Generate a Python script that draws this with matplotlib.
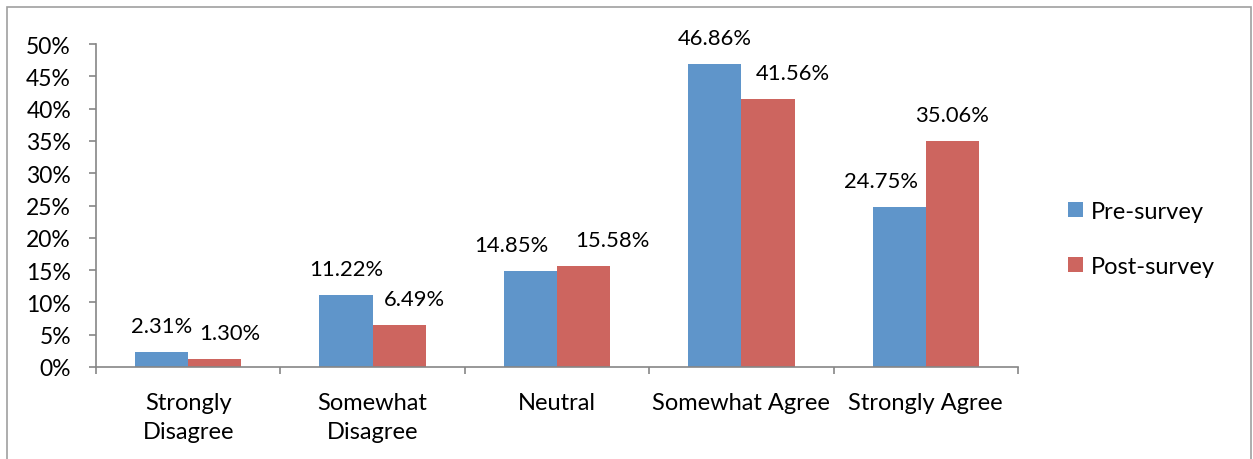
import matplotlib.pyplot as plt
from matplotlib.patches import Rectangle
from matplotlib.ticker import FixedLocator, PercentFormatter
import numpy as np

plt.rcParams['font.family'] = ['Lato', 'DejaVu Sans']

categories = ['Strongly\nDisagree', 'Somewhat\nDisagree', 'Neutral', 'Somewhat Agree', 'Strongly Agree']
pre_survey = [2.31, 11.22, 14.85, 46.86, 24.75]
post_survey = [1.30, 6.49, 15.58, 41.56, 35.06]
# horizontal nudges (points) for the value labels, as placed in the original
pre_nudge = [0, 0, -14, 0, -13]
post_nudge = [11, 11, 21, 18, 0]

blue = '#5F95CA'
red = '#CD655F'
axis_gray = '#868686'

fig = plt.figure(figsize=(12.53, 4.6), dpi=100)
ax = fig.add_axes([96 / 1253, 92 / 460, 922 / 1253, 323 / 460])

x = np.arange(len(categories))
w = 0.288
ax.bar(x - w / 2, pre_survey, w, color=blue, label='Pre-survey')
ax.bar(x + w / 2, post_survey, w, color=red, label='Post-survey')

for i in range(len(categories)):
    ax.annotate(f'{pre_survey[i]:.2f}%', (x[i] - w / 2, pre_survey[i]),
                xytext=(pre_nudge[i], 14.4), textcoords='offset points',
                ha='center', va='baseline', fontsize=15.8)
    ax.annotate(f'{post_survey[i]:.2f}%', (x[i] + w / 2, post_survey[i]),
                xytext=(post_nudge[i], 14.4), textcoords='offset points',
                ha='center', va='baseline', fontsize=15.8)

ax.set_xlim(-0.5, len(categories) - 0.5)
ax.set_ylim(0, 50)
ax.yaxis.set_major_locator(FixedLocator(np.arange(0, 51, 5)))
ax.yaxis.set_major_formatter(PercentFormatter(decimals=0))
ax.set_xticks(x)
ax.set_xticklabels(categories, fontsize=17, linespacing=1.45)
ax.xaxis.set_minor_locator(FixedLocator(np.arange(-0.5, len(categories), 1)))
ax.tick_params(axis='x', which='major', length=0, pad=18)
ax.tick_params(axis='x', which='minor', length=5, width=1.2, color=axis_gray, direction='out')
ax.tick_params(axis='y', length=5, width=1.2, color=axis_gray, direction='out', labelsize=16.5, pad=13)

for side in ['top', 'right']:
    ax.spines[side].set_visible(False)
for side in ['left', 'bottom']:
    ax.spines[side].set_color(axis_gray)
    ax.spines[side].set_linewidth(1.2)

leg = fig.legend(loc='center left', bbox_to_anchor=(1047 / 1253, 1 - 240 / 460),
                 frameon=False, fontsize=17, handlelength=0.62, handleheight=0.62,
                 handletextpad=0.35, labelspacing=1.45)

fig.patches.append(Rectangle((7 / 1253, -0.1), 1244 / 1253, 1.1 - 8 / 460,
                             transform=fig.transFigure, fill=False,
                             edgecolor='#A0A0A0', linewidth=1.2))

fig.savefig('out.png', dpi=100)
